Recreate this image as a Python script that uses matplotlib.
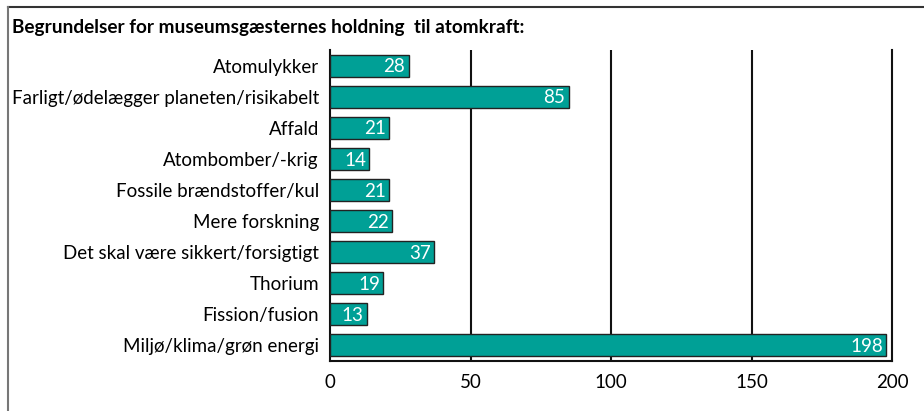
import matplotlib
matplotlib.use("Agg")
import matplotlib.pyplot as plt
from matplotlib.lines import Line2D

categories = ["Atomulykker", "Farligt/ødelægger planeten/risikabelt", "Affald",
              "Atombomber/-krig", "Fossile brændstoffer/kul", "Mere forskning",
              "Det skal være sikkert/forsigtigt", "Thorium", "Fission/fusion",
              "Miljø/klima/grøn energi"]
values = [28, 85, 21, 14, 21, 22, 37, 19, 13, 198]
xticks = [0, 50, 100, 150, 200]
title = "Begrundelser for museumsgæsternes holdning  til atomkraft:"

plt.rcParams['font.family'] = ['Lato', 'DejaVu Sans']

W, H = 924, 411
fig = plt.figure(figsize=(W / 100, H / 100), dpi=100)
ax = fig.add_axes([330 / W, 1 - 361 / H, 562 / W, 311 / H])

y = list(range(len(categories)))
ax.barh(y, values, height=0.71, color="#00A096", edgecolor="#222222", linewidth=1, zorder=3)
for yi, v in zip(y, values):
    ax.text(v - 1.2, yi + 0.04, str(v), ha="right", va="center", color="white", fontsize=13.5, zorder=4)

ax.set_ylim(len(categories) - 0.5, -0.5)
ax.set_xlim(0, 200)
ax.set_yticks(y)
ax.set_yticklabels(categories, fontsize=13.5)
ax.set_xticks(xticks)
ax.set_xticklabels([str(t) for t in xticks], fontsize=13.5)
ax.tick_params(length=0, pad=9)
ax.tick_params(axis="y", pad=8)
for t in xticks[1:-1]:
    ax.axvline(t, color="#111111", linewidth=1.5, zorder=2)
ax.spines["top"].set_visible(False)
for s in ["left", "right", "bottom"]:
    ax.spines[s].set_color("#111111")
    ax.spines[s].set_linewidth(1.5)

fig.text(12 / W, 1 - 27 / H, title, fontsize=13.7, fontweight="bold", va="center", ha="left")

fig.add_artist(Line2D([8 / W, 1.0], [1 - 7 / H, 1 - 7 / H], color="#333333", linewidth=1.5, transform=fig.transFigure))
fig.add_artist(Line2D([8 / W, 8 / W], [1 - 7 / H, 0.0], color="#777777", linewidth=1.5, transform=fig.transFigure))

fig.savefig("out.png", dpi=100)
